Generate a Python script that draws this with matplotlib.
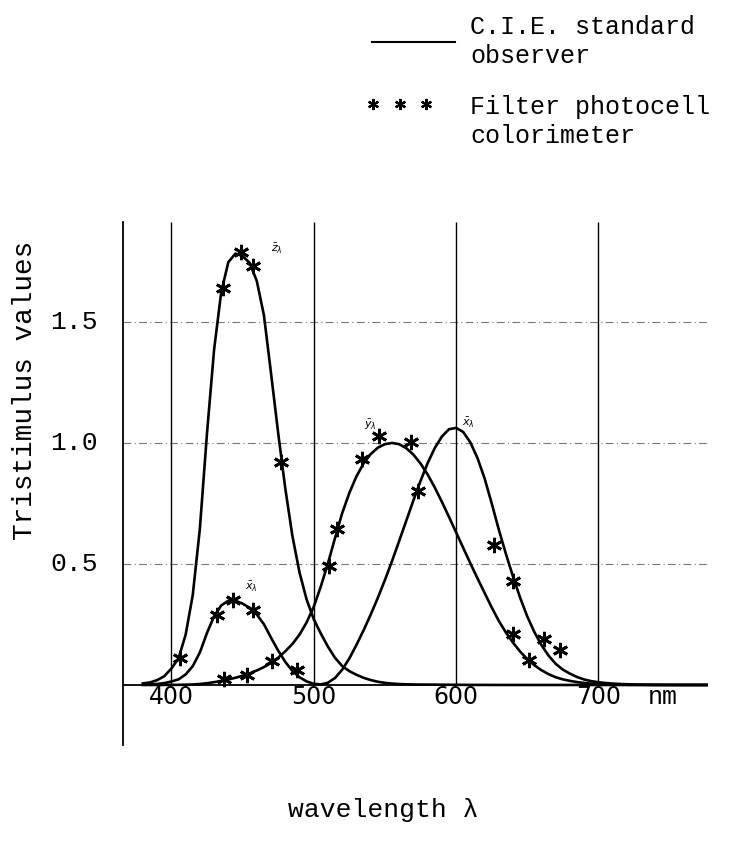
import numpy as np
import matplotlib
matplotlib.use('Agg')
import matplotlib.pyplot as plt
from matplotlib.lines import Line2D

# CIE 1931 standard observer, 5 nm steps (380-780 nm)
wavelength = np.arange(380, 781, 5)

x_bar = [0.001368, 0.002236, 0.004243, 0.007650, 0.014310, 0.023190, 0.043510, 0.077630, 0.134380, 0.214770,
         0.283900, 0.328500, 0.348280, 0.348060, 0.336200, 0.318700, 0.290800, 0.251100, 0.195360, 0.142100,
         0.095640, 0.057950, 0.032010, 0.014700, 0.004900, 0.002400, 0.009300, 0.029100, 0.063270, 0.109600,
         0.165500, 0.225750, 0.290400, 0.359700, 0.433450, 0.512050, 0.594500, 0.678400, 0.762100, 0.842500,
         0.916300, 0.978600, 1.026300, 1.056700, 1.062200, 1.045600, 1.002600, 0.938400, 0.854450, 0.751400,
         0.642400, 0.541900, 0.447900, 0.360800, 0.283500, 0.218700, 0.164900, 0.121200, 0.087400, 0.063600,
         0.046770, 0.032900, 0.022700, 0.015840, 0.011359, 0.008111, 0.005790, 0.004109, 0.002899, 0.002049,
         0.001440, 0.001000, 0.000690, 0.000476, 0.000332, 0.000235, 0.000166, 0.000117, 0.000083, 0.000059,
         0.000042]

y_bar = [0.000039, 0.000064, 0.000120, 0.000217, 0.000396, 0.000640, 0.001210, 0.002180, 0.004000, 0.007300,
         0.011600, 0.016840, 0.023000, 0.029800, 0.038000, 0.048000, 0.060000, 0.073900, 0.090980, 0.112600,
         0.139020, 0.169300, 0.208020, 0.258600, 0.323000, 0.407300, 0.503000, 0.608200, 0.710000, 0.793200,
         0.862000, 0.914850, 0.954000, 0.980300, 0.994950, 1.000000, 0.995000, 0.978600, 0.952000, 0.915400,
         0.870000, 0.816300, 0.757000, 0.694900, 0.631000, 0.566800, 0.503000, 0.441200, 0.381000, 0.321000,
         0.265000, 0.217000, 0.175000, 0.138200, 0.107000, 0.081600, 0.061000, 0.044580, 0.032000, 0.023200,
         0.017000, 0.011920, 0.008210, 0.005723, 0.004102, 0.002929, 0.002091, 0.001484, 0.001047, 0.000740,
         0.000520, 0.000361, 0.000249, 0.000172, 0.000120, 0.000085, 0.000060, 0.000042, 0.000030, 0.000021,
         0.000015]

z_bar = [0.006450, 0.010550, 0.020050, 0.036210, 0.067850, 0.110200, 0.207400, 0.371300, 0.645600, 1.039050,
         1.385600, 1.622960, 1.747060, 1.782600, 1.772110, 1.744100, 1.669200, 1.528100, 1.287640, 1.041900,
         0.812950, 0.616200, 0.465180, 0.353300, 0.272000, 0.212300, 0.158200, 0.111700, 0.078250, 0.057250,
         0.042160, 0.029840, 0.020300, 0.013400, 0.008750, 0.005750, 0.003900, 0.002750, 0.002100, 0.001800,
         0.001650, 0.001400, 0.001100, 0.001000, 0.000800, 0.000600, 0.000340, 0.000240, 0.000190, 0.000100,
         0.000050, 0.000030, 0.000020, 0.000010, 0.0, 0.0, 0.0, 0.0, 0.0, 0.0,
         0.0, 0.0, 0.0, 0.0, 0.0, 0.0, 0.0, 0.0, 0.0, 0.0,
         0.0, 0.0, 0.0, 0.0, 0.0, 0.0, 0.0, 0.0, 0.0, 0.0,
         0.0]

# filter photocell colorimeter readings (asterisks)
meas_z_wl = [406, 436, 449, 457, 477]
meas_z = [0.11, 1.64, 1.79, 1.73, 0.92]
meas_xblue_wl = [432, 443, 457, 488]
meas_xblue = [0.29, 0.35, 0.31, 0.06]
meas_y_wl = [437, 453, 471, 511, 516, 534, 546, 568, 640, 651]
meas_y = [0.025, 0.04, 0.10, 0.49, 0.645, 0.935, 1.03, 1.005, 0.21, 0.105]
meas_x_wl = [573, 627, 640, 662, 673]
meas_x = [0.80, 0.58, 0.43, 0.19, 0.145]

x_ticks = [400, 500, 600, 700]
y_ticks = [0.5, 1.0, 1.5]
y_ticklabels = ['0.5', '1.0', '1.5']

MONO = 'Liberation Mono'
W, H = 730, 846


def fx(px):
    return px / W


def fy(py):
    return 1 - py / H


def tristimulus_plot():
    fig = plt.figure(figsize=(W / 100, H / 100), dpi=100)
    fig.patch.set_facecolor('white')
    #坐标区：左轴在 123 px，顶端 222 px，底端 745 px
    ax = fig.add_axes([fx(123), fy(745), fx(708) - fx(123), fy(222) - fy(745)])
    ax.set_xlim(366, 777)
    ax.set_ylim(-0.248, 1.913)

    for s in ['top', 'right', 'bottom']:
        ax.spines[s].set_visible(False)
    ax.spines['left'].set_linewidth(1.3)
    ax.set_xticks([])
    ax.set_yticks([])

    # grid
    for v in y_ticks:
        ax.axhline(v, color='#777777', lw=0.8, ls=(0, (7, 3, 1, 3)), zorder=1)
    ax.vlines(x_ticks, 0, 1.913, color='black', lw=1.0, zorder=1)
    ax.axhline(0, color='black', lw=1.3, zorder=2)

    # CIE curves
    for curve in (x_bar, y_bar, z_bar):
        ax.plot(wavelength, curve, color='black', lw=1.9, zorder=3,
                solid_joinstyle='round')

    # asterisks
    star = dict(marker=(6, 2, 0), ms=11, mew=2.0, color='black', ls='none', zorder=4)
    ax.plot(meas_z_wl, meas_z, **star)
    ax.plot(meas_xblue_wl, meas_xblue, **star)
    ax.plot(meas_y_wl, meas_y, **star)
    ax.plot(meas_x_wl, meas_x, **star)

    # curve labels
    ax.text(470, 1.79, r'$\bar{z}_\lambda$', fontsize=8)
    ax.text(535, 1.06, r'$\bar{y}_\lambda$', fontsize=8)
    ax.text(604, 1.07, r'$\bar{x}_\lambda$', fontsize=8)
    ax.text(452, 0.39, r'$\bar{x}_\lambda$', fontsize=8)

    # tick labels
    for v in x_ticks:
        ax.text(v, -0.05, str(v), ha='center', va='center', fontsize=17, family='DejaVu Sans')
    ax.text(745, -0.05, 'nm', ha='center', va='center', fontsize=18, family=MONO)
    for v, lab in zip(y_ticks, y_ticklabels):
        ax.text(-0.084, v, lab, ha='center', va='center', fontsize=19, family=MONO,
                transform=ax.get_yaxis_transform())

    fig.text(fx(25), fy(390), 'Tristimulus values', rotation=90, ha='center', va='center',
             fontsize=20, family=MONO)
    fig.text(fx(383), fy(810), 'wavelength λ', ha='center', va='center', fontsize=19, family=MONO)

    # legend
    fig.add_artist(Line2D([fx(372), fx(455)], [fy(42), fy(42)], color='black', lw=1.5))
    fig.text(fx(470), fy(34), 'C.I.E. standard', ha='left', va='baseline', fontsize=18, family=MONO)
    fig.text(fx(470), fy(63), 'observer', ha='left', va='baseline', fontsize=18, family=MONO)
    for px in (373, 400, 426):
        fig.add_artist(Line2D([fx(px)], [fy(104)], marker=(6, 2, 0), ms=8, mew=1.6, color='black'))
    fig.text(fx(470), fy(114), 'Filter photocell', ha='left', va='baseline', fontsize=18, family=MONO)
    fig.text(fx(470), fy(143), 'colorimeter', ha='left', va='baseline', fontsize=18, family=MONO)

    fig.savefig('out.png', dpi=100)


if __name__ == '__main__':
    tristimulus_plot()
